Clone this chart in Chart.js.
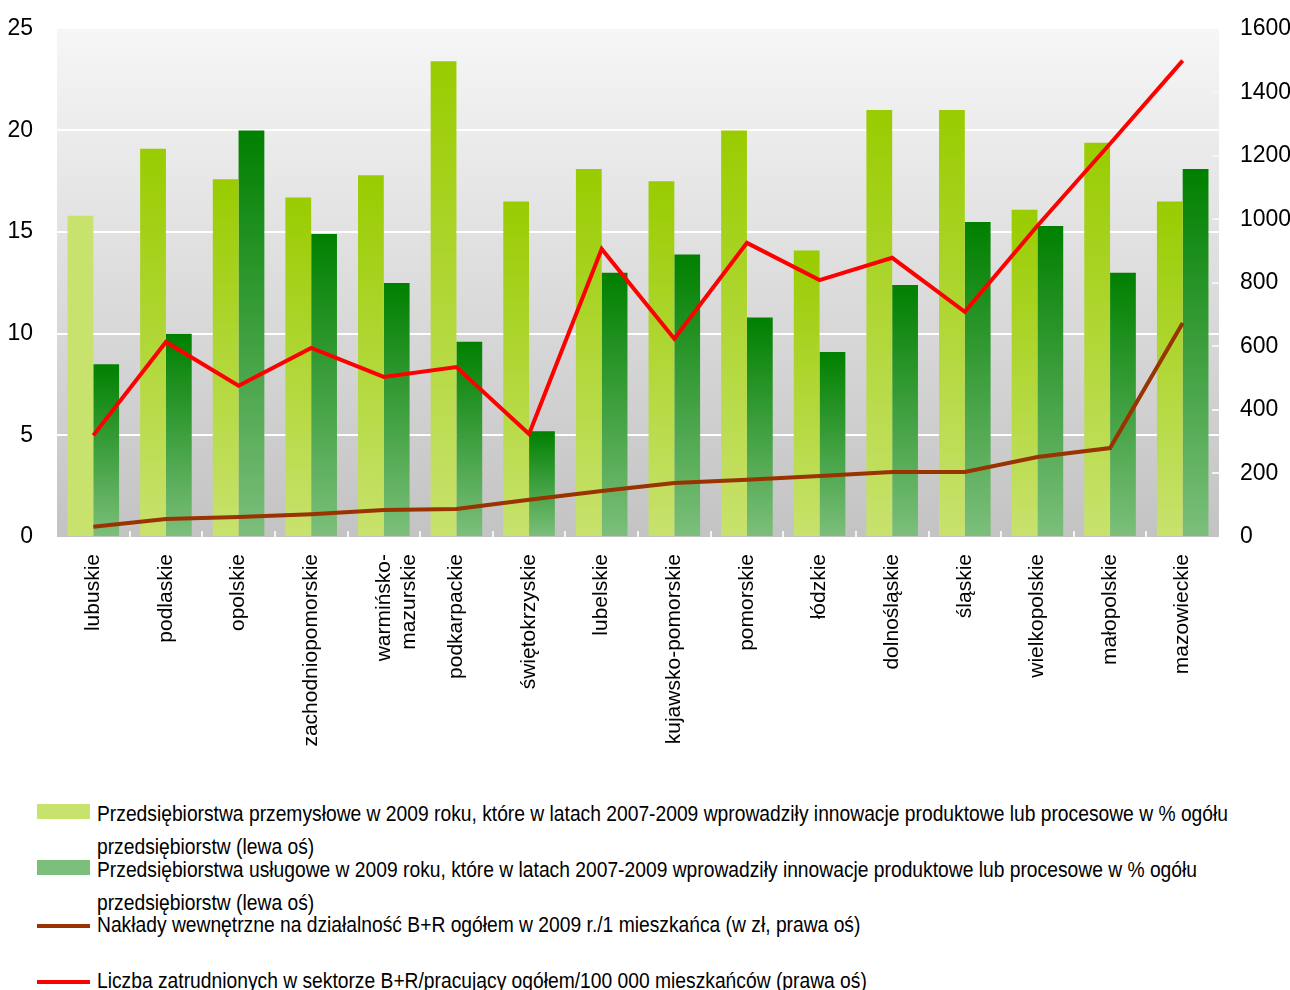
<!DOCTYPE html>
<html lang="pl">
<head>
<meta charset="utf-8">
<script src="https://cdn.jsdelivr.net/npm/chart.js@4.4.1/dist/chart.umd.min.js"></script>
<style>
  body { margin: 0; background: #fff; }
  #wrap { position: relative; width: 1290px; height: 990px; overflow: hidden; }
  #box { position: absolute; left: 0; top: -9px; width: 1290px; height: 799px; }
  .leg { position: absolute; left: 0; width: 1290px; font-family: "Liberation Sans", Arial, sans-serif; font-size: 22px; line-height: 33px; color: #000; }
  .leg .mark { position: absolute; left: 37px; width: 53px; }
  .leg .txt { position: absolute; left: 97px; white-space: nowrap; transform: scaleX(0.875); transform-origin: 0 0; }
</style>
</head>
<body>
<div id="wrap">
  <div id="box"><canvas id="myChart"></canvas></div>
  <div id="legend"></div>
</div>
<script>
// regiony (województwa) - kolejność wg nakładów na B+R
const regions = ['lubuskie', 'podlaskie', 'opolskie', 'zachodniopomorskie', ['warmińsko-', 'mazurskie'],
  'podkarpackie', 'świętokrzyskie', 'lubelskie', 'kujawsko-pomorskie', 'pomorskie', 'łódzkie',
  'dolnośląskie', 'śląskie', 'wielkopolskie', 'małopolskie', 'mazowieckie'];

// % przedsiębiorstw innowacyjnych (lewa oś)
const industryShare = [15.8, 19.1, 17.6, 16.7, 17.8, 23.4, 16.5, 18.1, 17.5, 20.0, 14.1, 21.0, 21.0, 16.1, 19.4, 16.5];
const servicesShare = [8.5, 10.0, 20.0, 14.9, 12.5, 9.6, 5.2, 13.0, 13.9, 10.8, 9.1, 12.4, 15.5, 15.3, 13.0, 18.1];

// prawa oś
const rdSpending = [32, 57, 63, 72, 85, 88, 117, 145, 170, 180, 192, 205, 205, 252, 280, 674];
const rdEmployed = [320, 614, 476, 595, 504, 535, 324, 907, 624, 926, 809, 879, 709, 980, 1238, 1500];

const leftTicks = [0, 5, 10, 15, 20, 25];
const rightTicks = [0, 200, 400, 600, 800, 1000, 1200, 1400, 1600];

const seriesLabels = [
  ['Przedsiębiorstwa przemysłowe w 2009 roku, które w latach 2007-2009 wprowadziły innowacje produktowe lub procesowe w %  ogółu', 'przedsiębiorstw (lewa oś)'],
  ['Przedsiębiorstwa usługowe w 2009 roku, które w latach 2007-2009 wprowadziły innowacje produktowe lub procesowe w %  ogółu', 'przedsiębiorstw (lewa oś)'],
  ['Nakłady wewnętrzne na działalność B+R ogółem w 2009 r./1 mieszkańca (w zł, prawa oś)'],
  ['Liczba zatrudnionych w sektorze B+R/pracujący ogółem/100 000 mieszkańców (prawa oś)']
];

const tickFont = { family: '"Liberation Sans", Arial, sans-serif', size: 23 };

// gradient per bar: full colour at the top, pale at the base
function barFill(top, bottom, flatIndex) {
  return function(c) {
    if (c.type !== 'data' || !c.chart.chartArea) return bottom;
    if (c.dataIndex === flatIndex) return bottom;
    const ys = c.chart.scales.y;
    const g = c.chart.ctx.createLinearGradient(0, ys.getPixelForValue(c.raw), 0, ys.getPixelForValue(0));
    g.addColorStop(0, top);
    g.addColorStop(1, bottom);
    return g;
  };
}

// grey plot background + small inner tick marks
const plotBg = {
  id: 'plotBg',
  beforeDraw(chart) {
    const a = chart.chartArea, ctx = chart.ctx;
    const g = ctx.createLinearGradient(0, a.top, 0, a.bottom);
    g.addColorStop(0, '#f6f6f6');
    g.addColorStop(1, '#c3c3c3');
    ctx.save();
    ctx.fillStyle = g;
    ctx.fillRect(a.left, a.top, a.right - a.left, a.bottom - a.top);
    ctx.restore();
  },
  beforeDatasetsDraw(chart) {
    const a = chart.chartArea, ctx = chart.ctx;
    const x = chart.scales.x, y1 = chart.scales.y1;
    ctx.save();
    ctx.strokeStyle = '#f4f4f4';
    ctx.lineWidth = 2;
    ctx.beginPath();
    for (let i = 1; i < regions.length; i++) {
      const px = Math.round((x.getPixelForValue(i - 1) + x.getPixelForValue(i)) / 2);
      ctx.moveTo(px, a.bottom);
      ctx.lineTo(px, a.bottom - 6);
    }
    rightTicks.slice(1, -1).forEach(v => {
      const py = Math.round(y1.getPixelForValue(v));
      ctx.moveTo(a.right, py);
      ctx.lineTo(a.right - 7, py);
    });
    ctx.stroke();
    ctx.restore();
  }
};

const ctx = document.getElementById('myChart').getContext('2d');
const myChart = new Chart(ctx, {
  type: 'bar',
  data: {
    labels: regions,
    datasets: [
      {
        label: seriesLabels[0].join(' '),
        data: industryShare,
        backgroundColor: barFill('#99cc00', '#c8e26e', 0),
        legendColor: '#c8e26e',
        yAxisID: 'y',
        order: 2,
        barPercentage: 1,
        categoryPercentage: 0.71
      },
      {
        label: seriesLabels[1].join(' '),
        data: servicesShare,
        backgroundColor: barFill('#008000', '#7cbf7c', -1),
        legendColor: '#7cbf7c',
        yAxisID: 'y',
        order: 2,
        barPercentage: 1,
        categoryPercentage: 0.71
      },
      {
        type: 'line',
        label: seriesLabels[2].join(' '),
        data: rdSpending,
        borderColor: '#993300',
        borderWidth: 4,
        pointRadius: 0,
        tension: 0,
        yAxisID: 'y1',
        order: 1
      },
      {
        type: 'line',
        label: seriesLabels[3].join(' '),
        data: rdEmployed,
        borderColor: '#ff0000',
        borderWidth: 4,
        pointRadius: 0,
        tension: 0,
        yAxisID: 'y1',
        order: 0
      }
    ]
  },
  options: {
    responsive: true,
    maintainAspectRatio: false,
    animation: false,
    layout: { padding: { top: 20, bottom: 0, left: 0, right: 0 } },
    plugins: {
      legend: { display: false },
      tooltip: { enabled: false }
    },
    scales: {
      x: {
        grid: { display: false, drawTicks: false },
        border: { display: false },
        ticks: {
          autoSkip: false,
          minRotation: 90,
          maxRotation: 90,
          padding: 17,
          color: '#000',
          font: { family: '"Liberation Sans", Arial, sans-serif', size: 21 }
        },
        afterFit(scale) { scale.height = 253; }
      },
      y: {
        position: 'left',
        min: 0,
        max: 25,
        afterBuildTicks(scale) { scale.ticks = leftTicks.map(v => ({ value: v })); },
        grid: {
          drawTicks: false,
          lineWidth: 2,
          color: c => (c.tick && c.tick.value > 0 && c.tick.value < 25) ? '#ffffff' : 'rgba(0,0,0,0)'
        },
        border: { display: false },
        ticks: { padding: 24, color: '#000', font: tickFont, callback: v => String(v) },
        afterFit(scale) { scale.width = 57; }
      },
      y1: {
        position: 'right',
        min: 0,
        max: 1600,
        afterBuildTicks(scale) { scale.ticks = rightTicks.map(v => ({ value: v })); },
        grid: { drawOnChartArea: false, drawTicks: false },
        border: { display: false },
        ticks: { padding: 21, color: '#000', font: tickFont, callback: v => String(v) },
        afterFit(scale) { scale.width = 71; }
      }
    }
  },
  plugins: [plotBg]
});

// legend below the chart, built from the datasets
const legend = document.getElementById('legend');
const legendTops = [797, 853, 908, 964];
myChart.data.datasets.forEach((ds, i) => {
  const item = document.createElement('div');
  item.className = 'leg';
  item.style.top = legendTops[i] + 'px';
  const mark = document.createElement('div');
  mark.className = 'mark';
  if (ds.type === 'line') {
    mark.style.top = '16px';
    mark.style.height = '4px';
    mark.style.background = ds.borderColor;
  } else {
    mark.style.top = '7px';
    mark.style.height = '15px';
    mark.style.background = ds.legendColor;
  }
  const txt = document.createElement('div');
  txt.className = 'txt';
  seriesLabels[i].forEach(line => {
    const row = document.createElement('div');
    row.textContent = line;
    txt.appendChild(row);
  });
  item.appendChild(mark);
  item.appendChild(txt);
  legend.appendChild(item);
});
</script>
</body>
</html>
